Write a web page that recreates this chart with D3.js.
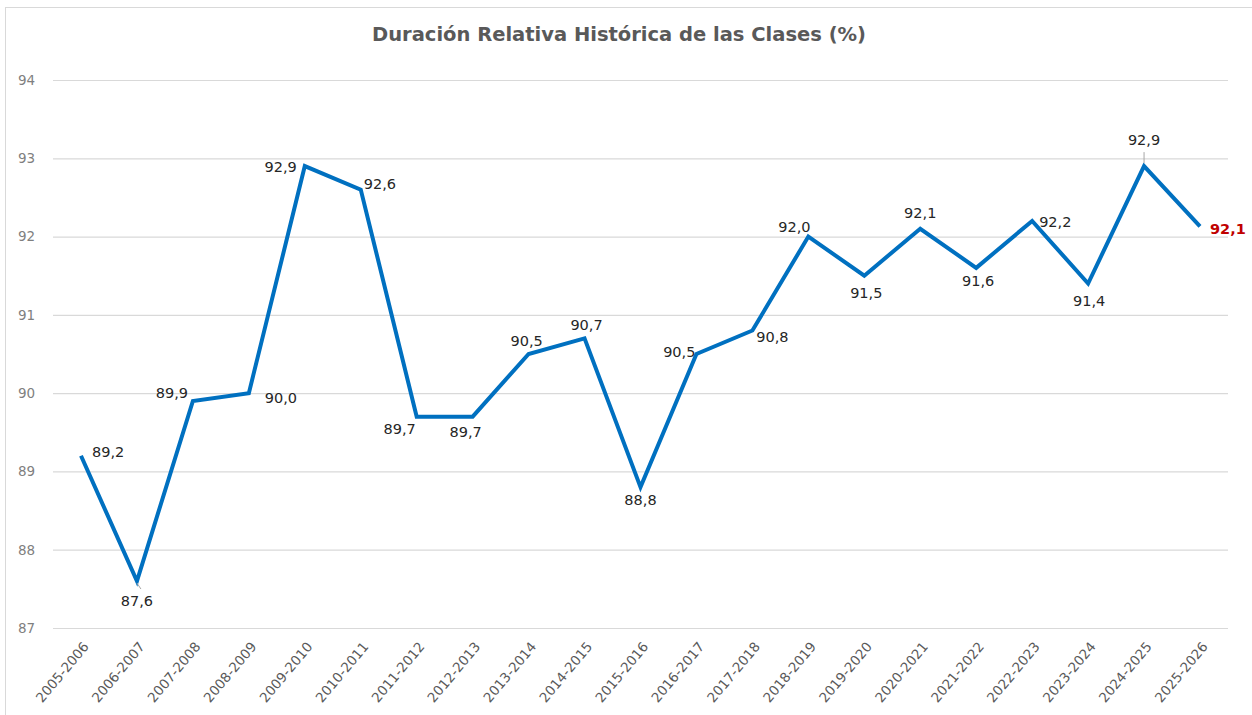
<!DOCTYPE html>
<html>
<head>
<meta charset="utf-8">
<script src="https://cdn.jsdelivr.net/npm/d3@7"></script>
<style>
  body { margin: 0; background: #fff; }
  svg { display: block; font-family: "DejaVu Sans", Verdana, sans-serif; }
</style>
</head>
<body>
<svg id="chart" width="1252" height="715"></svg>
<script>
const seasons = ["2005-2006","2006-2007","2007-2008","2008-2009","2009-2010","2010-2011",
  "2011-2012","2012-2013","2013-2014","2014-2015","2015-2016","2016-2017","2017-2018",
  "2018-2019","2019-2020","2020-2021","2021-2022","2022-2023","2023-2024","2024-2025","2025-2026"];
const duration = [89.2, 87.6, 89.9, 90.0, 92.9, 92.6, 89.7, 89.7, 90.5, 90.7, 88.8,
  90.5, 90.8, 92.0, 91.5, 92.1, 91.6, 92.2, 91.4, 92.9, 92.13];
const yTicks = [87, 88, 89, 90, 91, 92, 93, 94];
// where each value label sits relative to its point
const labelSide = ["r","b","tl","br","l","r","bl","b","t","t","b","l","r","tl","b","t","b","r","b","tt","red"];

const fmt = v => v.toFixed(1).replace(".", ",");

const svg = d3.select("#chart");
const width = 1252, height = 715;
const margin = { top: 80, right: 24, bottom: 87, left: 53 };

svg.append("rect")
  .attr("x", 5.5).attr("y", 7.5)
  .attr("width", width + 10).attr("height", height + 10)
  .attr("fill", "#fff").attr("stroke", "#d9d9d9");

const x = d3.scalePoint()
  .domain(seasons)
  .range([81, 1200]);

const y = d3.scaleLinear()
  .domain([87, 94])
  .range([628, 80]);

svg.append("text")
  .attr("x", 619).attr("y", 41)
  .attr("text-anchor", "middle")
  .attr("font-size", 19.5).attr("font-weight", "bold")
  .attr("fill", "#595959")
  .text("Duración Relativa Histórica de las Clases (%)");

// gridlines + y labels
svg.append("g")
  .attr("transform", `translate(${margin.left},0)`)
  .call(d3.axisLeft(y).tickValues(yTicks).tickFormat(d => d).tickSize(-(1228 - margin.left)))
  .call(g => g.select(".domain").remove())
  .call(g => g.attr("font-family", null))
  .call(g => g.selectAll(".tick line").attr("stroke", "#d9d9d9").attr("stroke-width", 1.2))
  .call(g => g.selectAll(".tick text")
    .attr("fill", "#7f7f7f").attr("font-size", 13.5)
    .attr("text-anchor", "start").attr("x", -35));

// x labels
svg.append("g")
  .attr("transform", "translate(0,628)")
  .call(d3.axisBottom(x).tickSize(0).tickPadding(0))
  .call(g => g.select(".domain").remove())
  .call(g => g.attr("font-family", null))
  .call(g => g.selectAll(".tick text")
    .attr("fill", "#595959").attr("font-size", 13.5)
    .attr("text-anchor", "end")
    .attr("dy", 0)
    .attr("transform", "translate(8,19) rotate(-50)"));

const line = d3.line()
  .x((d, i) => x(seasons[i]))
  .y(d => y(d));

svg.append("path")
  .datum(duration)
  .attr("fill", "none")
  .attr("stroke", "#0070c0")
  .attr("stroke-width", 4)
  .attr("stroke-linejoin", "miter")
  .attr("d", line);

// leader lines
[1, 19].forEach(i => {
  const px = x(seasons[i]), py = y(duration[i]);
  svg.append("line")
    .attr("x1", px).attr("x2", i === 1 ? px + 4 : px)
    .attr("y1", i === 1 ? py + 2 : py - 3)
    .attr("y2", i === 1 ? py + 8 : py - 14)
    .attr("stroke", "#a6a6a6").attr("stroke-width", 1);
});

const offsets = {
  r:   [10, -20, "start"],
  b:   [0, 17, "middle"],
  tl:  [-21, -8, "middle"],
  br:  [32, 5, "middle"],
  l:   [-8, 1, "end"],
  bl:  [-17, 12, "middle"],
  t:   [0, -13, "middle"],
  tt:  [0, -26, "middle"],
  red: [10, 3, "start"]
};

// per-label nudges
const nudge = {
  0: [11, -4], 1: [0, 20], 5: [3, -6], 7: [-7, 15], 8: [-2, -13], 9: [2, -13],
  10: [0, 13], 11: [-1, -2], 13: [-14, -10], 14: [2, 17], 15: [0, -16],
  16: [2, 13], 17: [7, 1], 18: [1, 17]
};

svg.append("g")
  .selectAll("text")
  .data(duration)
  .join("text")
  .each(function(d, i) {
    let [dx, dy, anchor] = offsets[labelSide[i]];
    if (nudge[i]) [dx, dy] = nudge[i];
    if (i === 12) { dx = 20; dy = 6; anchor = "middle"; }
    d3.select(this)
      .attr("x", x(seasons[i]) + dx)
      .attr("y", y(d) + dy)
      .attr("dy", "0.35em")
      .attr("text-anchor", anchor);
  })
  .attr("font-size", 14.5)
  .attr("fill", (d, i) => labelSide[i] === "red" ? "#c00000" : "#262626")
  .attr("font-weight", (d, i) => labelSide[i] === "red" ? "bold" : null)
  .text(d => fmt(d));
</script>
</body>
</html>
